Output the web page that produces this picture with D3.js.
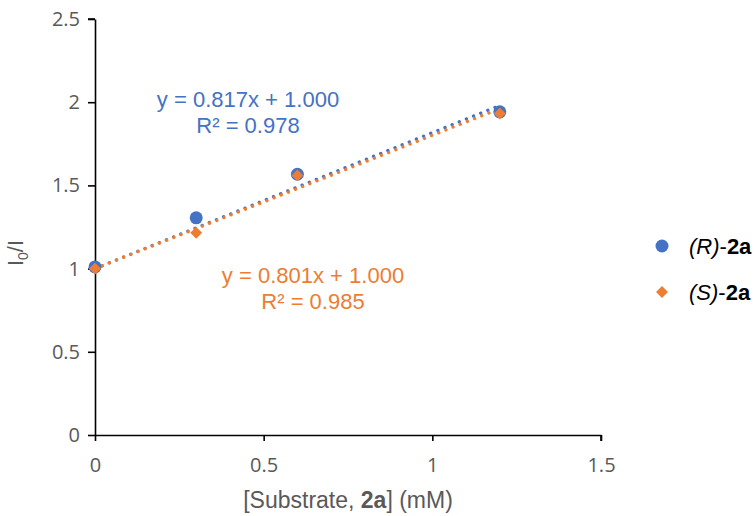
<!DOCTYPE html>
<html>
<head>
<meta charset="utf-8">
<script src="https://cdn.jsdelivr.net/npm/d3@7"></script>
<style>
  body { margin: 0; background: #fff; }
  svg { display: block; }
</style>
</head>
<body>
<svg id="chart" width="754" height="516"></svg>
<script>
// Concentration of substrate 2a (mM)
const concentrations = [0, 0.3, 0.6, 1.2];
// Quenching ratio I0/I for each enantiomer
const valuesR = [1.01, 1.305, 1.567, 1.942];
const valuesS = [1.0, 1.215, 1.56, 1.932];
// Linear fits (slope, intercept, R²)
const fitR = { slope: 0.817, intercept: 1.000, r2: 0.978 };
const fitS = { slope: 0.801, intercept: 1.000, r2: 0.985 };
const xTicks = [0, 0.5, 1, 1.5];
const yTicks = [0, 0.5, 1, 1.5, 2, 2.5];

const blue = "#4472C4", orange = "#ED7D31";
const svg = d3.select("#chart");
const x = d3.scaleLinear().domain([0, 1.5]).range([95, 601]);
const y = d3.scaleLinear().domain([0, 2.5]).range([435, 19]);

const tickFont = "'Open Sans', 'DejaVu Sans', sans-serif";
const labelFont = "'Liberation Sans', Arial, sans-serif";

// Axes
const xAxis = svg.append("g").attr("transform", `translate(0,${y(0)})`)
  .call(d3.axisBottom(x).tickValues(xTicks).tickFormat(d3.format("")).tickSize(6).tickSizeOuter(0).tickPadding(17));
const yAxis = svg.append("g").attr("transform", `translate(${x(0)},0)`)
  .call(d3.axisLeft(y).tickValues(yTicks).tickFormat(d3.format("")).tickSize(7).tickSizeOuter(0).tickPadding(8));
[xAxis, yAxis].forEach(g => {
  g.selectAll("path, line").attr("stroke", "#000").attr("stroke-width", 1.6);
  g.selectAll("text").attr("fill", "#595959").style("font-family", tickFont).style("font-size", "20px");
});
// outer ticks at the far ends of both axes
svg.append("line").attr("x1", x(0) - 7).attr("x2", x(0)).attr("y1", y(2.5)).attr("y2", y(2.5))
  .attr("stroke", "#000").attr("stroke-width", 1.6);
svg.append("line").attr("x1", x(1.5)).attr("x2", x(1.5)).attr("y1", y(0)).attr("y2", y(0) + 6)
  .attr("stroke", "#000").attr("stroke-width", 1.6);

// Trend lines across the measured range
const xMin = d3.min(concentrations), xMax = d3.max(concentrations);
[[fitR, blue], [fitS, orange]].forEach(([f, c]) => {
  svg.append("line")
    .attr("x1", x(xMin)).attr("y1", y(f.intercept + f.slope * xMin))
    .attr("x2", x(xMax)).attr("y2", y(f.intercept + f.slope * xMax))
    .attr("stroke", c).attr("stroke-width", 3.3)
    .attr("stroke-linecap", "round").attr("stroke-dasharray", "0.1 7.6");
});

// Markers
svg.append("g").selectAll("circle").data(concentrations).join("circle")
  .attr("cx", d => x(d)).attr("cy", (d, i) => y(valuesR[i])).attr("r", 6.5).attr("fill", blue);
const diamond = d3.symbol().type(d3.symbolDiamond2).size(90);
svg.append("g").selectAll("path").data(concentrations).join("path")
  .attr("transform", (d, i) => `translate(${x(d)},${y(valuesS[i])})`)
  .attr("d", diamond).attr("fill", orange);

// Fit equations
function equation(f, cx, cy, color) {
  const g = svg.append("g").attr("fill", color).style("font-family", labelFont).style("font-size", "22px")
    .attr("text-anchor", "middle");
  g.append("text").attr("x", cx).attr("y", cy).text(`y = ${f.slope.toFixed(3)}x + ${f.intercept.toFixed(3)}`);
  g.append("text").attr("x", cx).attr("y", cy + 26).text(`R² = ${f.r2.toFixed(3)}`);
}
equation(fitR, 248, 107, blue);
equation(fitS, 313, 283, orange);

// Axis titles
const xt = svg.append("text").attr("x", 348).attr("y", 508).attr("text-anchor", "middle")
  .attr("fill", "#595959").style("font-family", labelFont).style("font-size", "23px");
xt.append("tspan").text("[Substrate, ");
xt.append("tspan").attr("font-weight", "bold").text("2a");
xt.append("tspan").text("] (mM)");

const yt = svg.append("text").attr("transform", "translate(23,253) rotate(-90)").attr("text-anchor", "middle")
  .attr("fill", "#595959").style("font-family", labelFont).style("font-size", "22px");
yt.append("tspan").text("I");
yt.append("tspan").attr("font-size", "14px").attr("dy", 5).text("0");
yt.append("tspan").attr("dy", -5).text("/I");

// Legend
const legend = svg.append("g").style("font-family", labelFont).style("font-size", "22px");
const items = [
  { name: "R", color: blue, shape: "circle", yPos: 246 },
  { name: "S", color: orange, shape: "diamond", yPos: 292 }
];
items.forEach(it => {
  if (it.shape === "circle") {
    legend.append("circle").attr("cx", 662).attr("cy", it.yPos).attr("r", 6.5).attr("fill", it.color);
  } else {
    legend.append("path").attr("transform", `translate(662,${it.yPos})`).attr("d", diamond).attr("fill", it.color);
  }
  const t = legend.append("text").attr("x", 689).attr("y", it.yPos + 8).attr("fill", "#000");
  t.append("tspan").attr("font-style", "italic").text(`(${it.name})`);
  t.append("tspan").text("-");
  t.append("tspan").attr("font-weight", "bold").text("2a");
});
</script>
</body>
</html>
